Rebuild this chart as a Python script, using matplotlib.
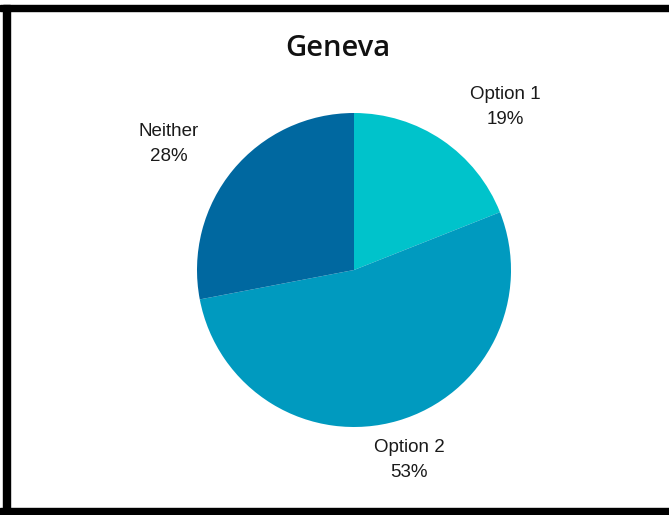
import matplotlib.pyplot as plt
from matplotlib.patches import Rectangle

# datos del grafico
categories = ['Option 1', 'Option 2', 'Neither']
values = [19, 53, 28]
colors = ['#00C3CB', '#009ABF', '#0068A0']

W, H = 669, 515

fig = plt.figure(figsize=(W / 100, H / 100), dpi=100)
fig.patch.set_facecolor('white')
ax = fig.add_axes([0, 0, 1, 1])

# pastel (sentido horario desde arriba)
ax.pie(values, colors=colors, startangle=90, counterclock=False,
       center=(354, H - 270), radius=157, frame=True,
       wedgeprops={'linewidth': 0})
ax.set_xlim(0, W)
ax.set_ylim(0, H)
ax.set_aspect('auto')
ax.axis('off')

# etiquetas
label_pos = [(505, 107), (409, 460), (169, 144)]
for cat, val, (x, y) in zip(categories, values, label_pos):
    ax.text(x, H - y, f'{cat}\n{val}%', ha='center', va='center',
            fontsize=13.5, family='Liberation Sans', color='#1a1a1a',
            linespacing=1.55)

ax.text(338, H - 48, 'Geneva', ha='center', va='center', fontsize=21,
        family='Open Sans', fontweight='semibold', color='#111111')

# marco negro
for x0, y0, w, h in [(0, H - 11, W, 6), (3, 0, 7, H - 5), (0, 0, W, 7)]:
    ax.add_patch(Rectangle((x0, y0), w, h, color='black', zorder=5))

plt.savefig('out.png', dpi=100)
